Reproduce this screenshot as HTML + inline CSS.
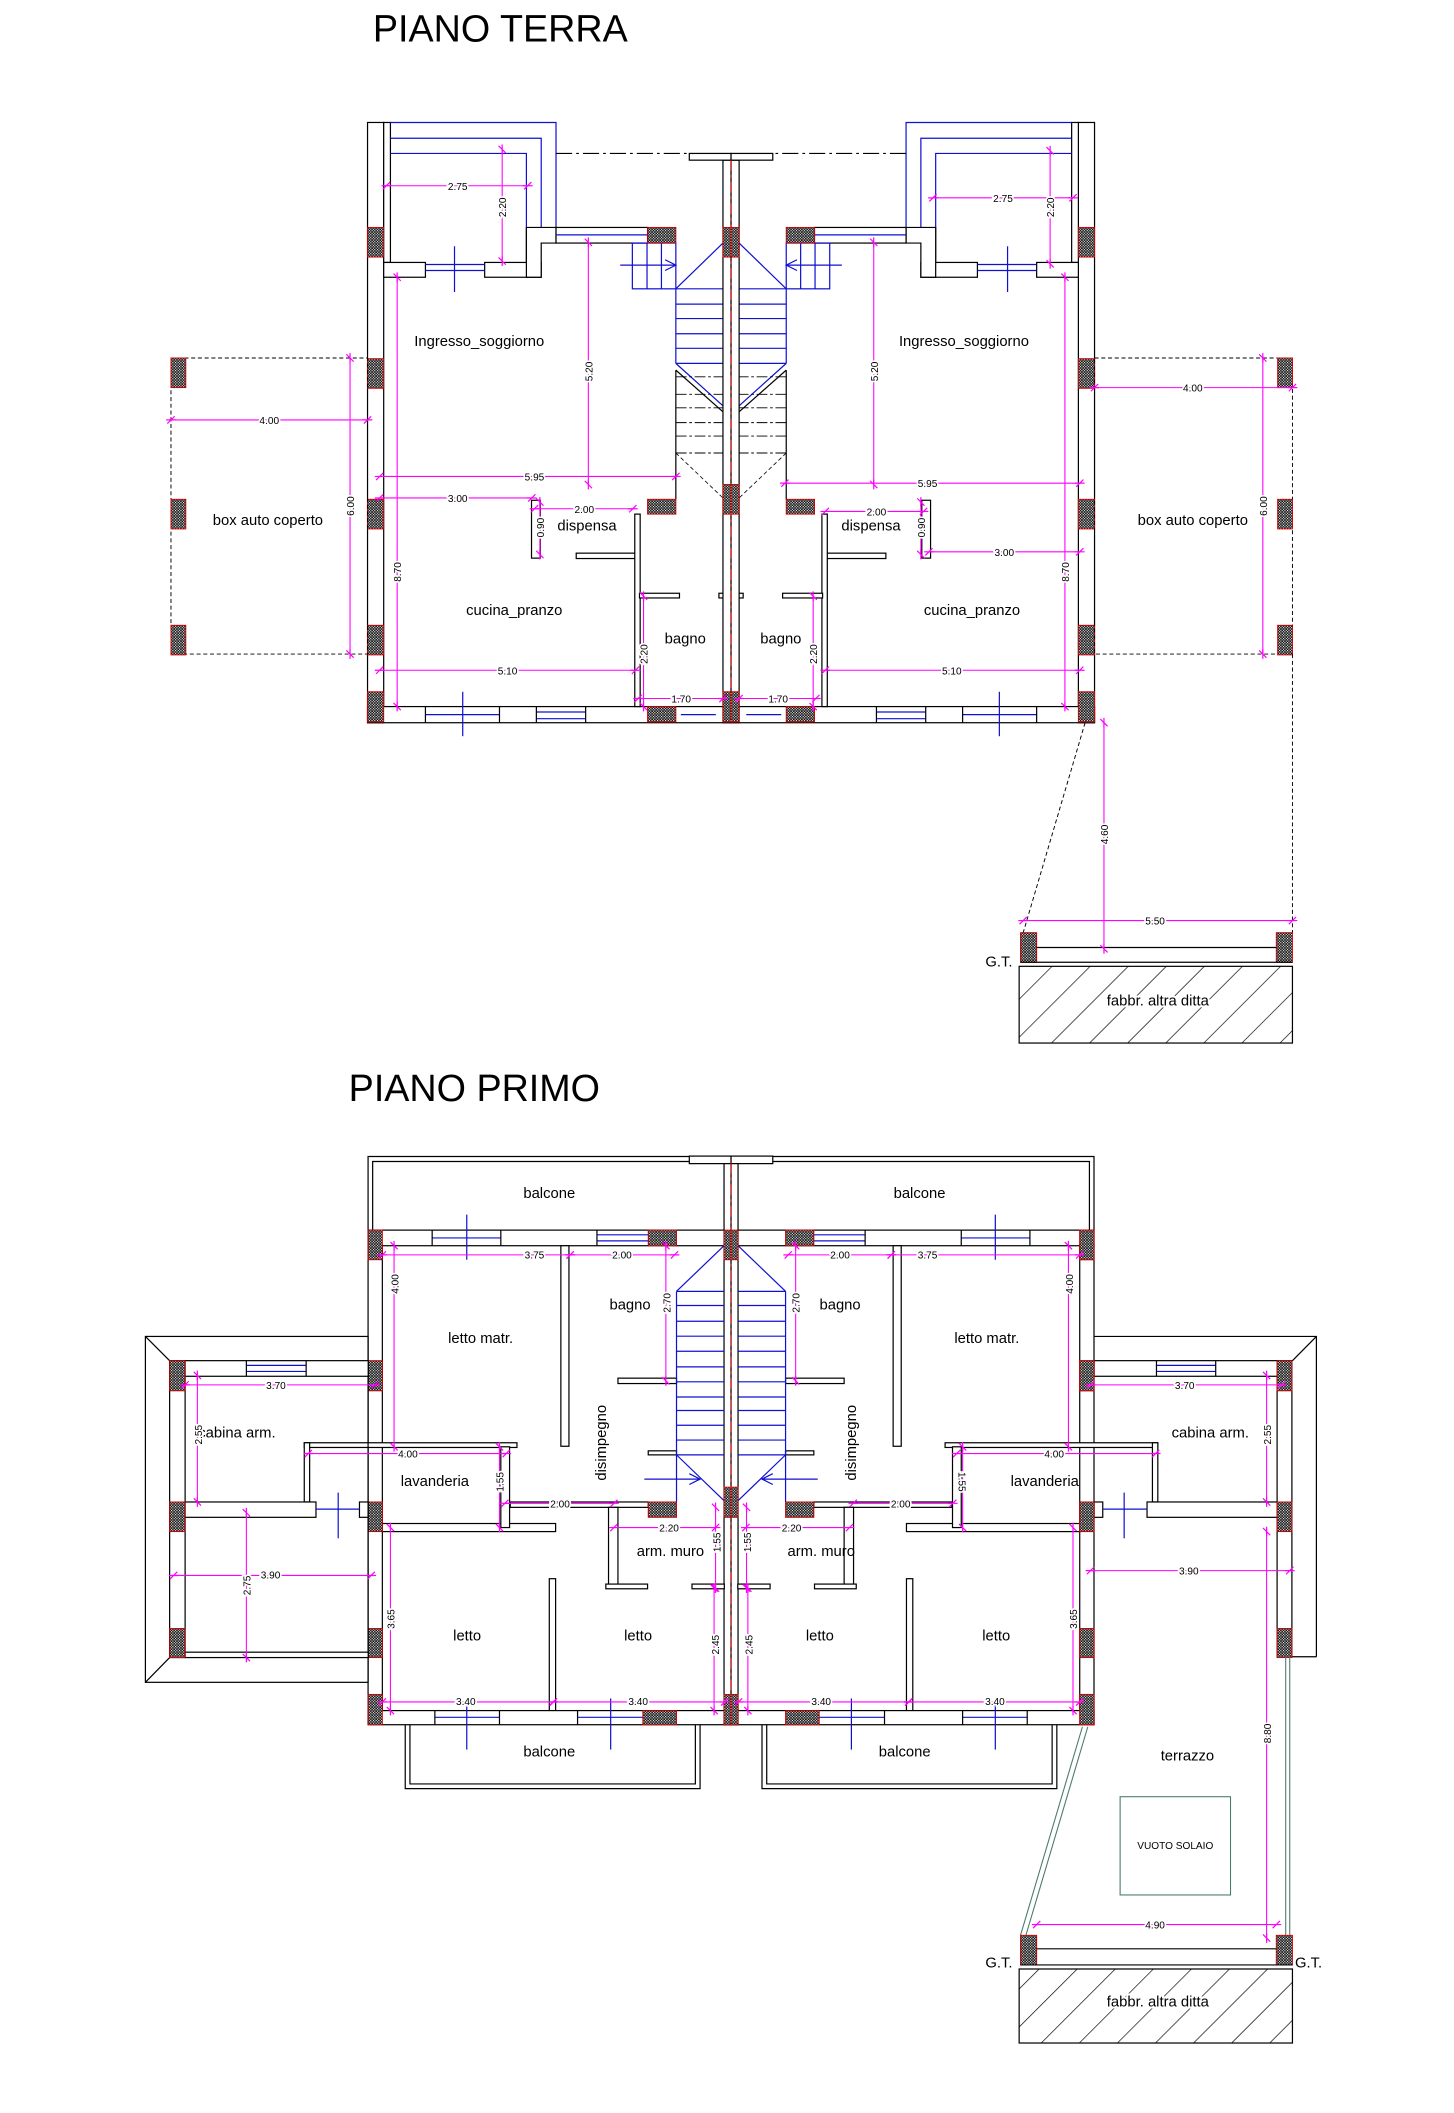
<!DOCTYPE html>
<html><head><meta charset="utf-8"><style>
html,body{margin:0;padding:0;background:#fff}
svg{display:block}
.w{fill:#fff;stroke:#000;stroke-width:.9}
.k{fill:none;stroke:#000;stroke-width:.9}
.bl{fill:none;stroke:#1010d0;stroke-width:.9}
.p{fill:url(#hp);stroke:#c00;stroke-width:.7}
.d{stroke:#f0f;stroke-width:.8;fill:none;marker-start:url(#t);marker-end:url(#t)}
.dt{font:7.5px "Liberation Sans",sans-serif;fill:#000;text-anchor:middle;stroke:#fff;stroke-width:2.5;paint-order:stroke}
.r{font:11px "Liberation Sans",sans-serif;fill:#000;text-anchor:middle}
.ttl{font:28px "Liberation Sans",sans-serif;fill:#000}
.gr{fill:none;stroke:#4a7a6a;stroke-width:.8}
</style></head><body>
<svg width="1454" height="2113" viewBox="0 0 1080 1570" preserveAspectRatio="none" xmlns="http://www.w3.org/2000/svg">
<defs>
<pattern id="hp" width="2" height="2" patternUnits="userSpaceOnUse"><rect width="2" height="2" fill="#111"/><rect x="1" y="0" width="0.8" height="0.8" fill="#fff"/><rect x="0" y="1" width="0.8" height="0.8" fill="#fff"/></pattern>
<pattern id="hatch" width="20" height="20" patternUnits="userSpaceOnUse" patternTransform="rotate(45)"><line x1="0" y1="0" x2="0" y2="20" stroke="#000" stroke-width="1"/></pattern>
<marker id="t" viewBox="-5 -5 10 10" markerWidth="9" markerHeight="9" orient="auto" markerUnits="userSpaceOnUse"><path d="M-3,3 L3,-3 M-4,0 L4,0" stroke="#f0f" stroke-width="1"/></marker>
</defs>
<rect width="1080" height="1570" fill="#fff"/>

<text class="ttl" x="277" y="31">PIANO TERRA</text>
<text class="ttl" x="259" y="818">PIANO PRIMO</text>

<g id="G">
 <rect class="w" x="273" y="91" width="12" height="446"/>
 <rect class="w" x="285" y="91" width="5" height="104"/>
 <polyline class="bl" points="290,91 413,91 413,169"/>
 <polyline class="bl" points="290,102.7 402,102.7 402,169"/>
 <polyline class="bl" points="290,114 391,114 391,169"/>
 <line class="k" x1="391" y1="169" x2="391" y2="195"/>
 <rect class="w" x="285" y="195" width="31" height="11"/>
 <rect class="w" x="360" y="195" width="42" height="11"/>
 <polygon class="w" points="391,169 413,169 413,180.6 402,180.6 402,206 391,206"/>
 <line class="bl" x1="316" y1="196.5" x2="360" y2="196.5"/>
 <line class="bl" x1="316" y1="201" x2="360" y2="201"/>
 <line class="bl" x1="337.6" y1="183" x2="337.6" y2="217"/>
 <rect class="w" x="413" y="169" width="68" height="11.6"/>
 <line class="bl" x1="413" y1="174.5" x2="481" y2="174.5"/>
 <line x1="413" y1="114" x2="512" y2="114" stroke="#000" stroke-width=".8" stroke-dasharray="12,3,2,3"/>
 <rect class="w" x="273" y="525" width="270" height="12"/>
 <rect x="316" y="526" width="55" height="10" fill="#fff"/>
 <line class="bl" x1="316" y1="531" x2="371" y2="531"/>
 <line class="bl" x1="343.7" y1="514" x2="343.7" y2="547"/>
 <rect x="398.4" y="526" width="36.6" height="10" fill="#fff"/>
 <line class="bl" x1="398.4" y1="529" x2="435" y2="529"/><line class="bl" x1="398.4" y1="534" x2="435" y2="534"/>
 <rect x="505.7" y="526" width="26" height="10" fill="#fff"/>
 <line class="bl" x1="505.7" y1="531" x2="531.7" y2="531"/>
 <line class="k" x1="316" y1="525" x2="316" y2="537"/><line class="k" x1="371" y1="525" x2="371" y2="537"/>
 <line class="k" x1="398.4" y1="525" x2="398.4" y2="537"/><line class="k" x1="435" y1="525" x2="435" y2="537"/>
 <rect class="w" x="394.8" y="371.7" width="6.5" height="43"/>
 <rect class="w" x="428" y="411" width="44" height="4"/>
 <rect class="w" x="471.5" y="382" width="4" height="143"/>
 <rect class="w" x="475" y="440.8" width="29.7" height="3.5"/>
 <rect class="w" x="534" y="440.8" width="9" height="3.5"/>
 <rect class="bl" x="469.7" y="180.6" width="32.3" height="34"/>
 <line class="bl" x1="480.6" y1="180.6" x2="480.6" y2="214.6"/>
 <line class="bl" x1="491.3" y1="180.6" x2="491.3" y2="214.6"/>
 <line class="bl" x1="460.7" y1="197" x2="502" y2="197"/>
 <polyline class="bl" points="494,193 502,197 494,201"/>
 <line class="bl" x1="502" y1="214.6" x2="537" y2="180.6"/>
 <line class="bl" x1="502" y1="214.6" x2="502" y2="270"/>
 <g class="bl"><line x1="502" y1="226" x2="537" y2="226"/><line x1="502" y1="236.7" x2="537" y2="236.7"/><line x1="502" y1="248" x2="537" y2="248"/><line x1="502" y1="258.8" x2="537" y2="258.8"/><line x1="502" y1="270" x2="537" y2="270"/><line x1="502" y1="214.6" x2="537" y2="214.6"/></g>
 <line class="bl" x1="502" y1="270" x2="537" y2="301.5"/>
 <line class="k" x1="502" y1="275" x2="537" y2="306"/>
 <g stroke="#000" stroke-width=".7" stroke-dasharray="8,2,2,2"><line x1="502" y1="280" x2="537" y2="280"/><line x1="502" y1="293" x2="537" y2="293"/><line x1="502" y1="303" x2="537" y2="303"/><line x1="502" y1="314" x2="537" y2="314"/><line x1="502" y1="324" x2="537" y2="324"/><line x1="502" y1="336.6" x2="537" y2="336.6"/></g>
 <line class="k" x1="502" y1="275" x2="502" y2="371"/>
 <line stroke="#000" stroke-width=".6" stroke-dasharray="3,2" x1="502" y1="336.6" x2="537" y2="370"/>
 <rect class="w" x="537" y="119" width="6" height="418"/>
 <rect class="w" x="512" y="114" width="31" height="5"/>
 <rect class="p" x="273" y="169" width="12" height="22"/>
 <rect class="p" x="273" y="266.5" width="12" height="22"/>
 <rect class="p" x="273" y="371" width="12" height="22"/>
 <rect class="p" x="273" y="464.6" width="12" height="22"/>
 <rect class="p" x="273" y="514" width="12" height="22.5"/>
 <rect class="p" x="481" y="169" width="21" height="11.6"/>
 <rect class="p" x="481" y="371" width="21" height="11"/>
 <rect class="p" x="481" y="525" width="21" height="11.5"/>
 <rect class="p" x="537" y="169" width="6" height="22"/>
 <rect class="p" x="537" y="360" width="6" height="22"/>
 <rect class="p" x="537" y="514" width="6" height="22.5"/>
</g>
<use href="#G" transform="translate(1086,0) scale(-1,1)"/>
<line x1="543" y1="119" x2="543" y2="537" stroke="#d00" stroke-width=".8" stroke-dasharray="8,3,2,3"/>

<rect x="127" y="266" width="146" height="220" fill="none" stroke="#000" stroke-width=".7" stroke-dasharray="3,2"/>
<rect x="813" y="266" width="147" height="220" fill="none" stroke="#000" stroke-width=".7" stroke-dasharray="3,2"/>
<rect class="p" x="127" y="266" width="11" height="22"/><rect class="p" x="127" y="371" width="11" height="22"/><rect class="p" x="127" y="464.6" width="11" height="22"/>
<rect class="p" x="949" y="266" width="11" height="22"/><rect class="p" x="949" y="371" width="11" height="22"/><rect class="p" x="949" y="464.6" width="11" height="22"/>
<line x1="806" y1="537" x2="760" y2="693" stroke="#000" stroke-width=".7" stroke-dasharray="3,2"/>
<line x1="960" y1="486" x2="960" y2="693" stroke="#000" stroke-width=".7" stroke-dasharray="3,2"/>
<rect class="p" x="758" y="693" width="12" height="22"/><rect class="p" x="948" y="693" width="12" height="22"/>
<line class="k" x1="770" y1="704" x2="948" y2="704"/>
<line class="k" x1="758" y1="715" x2="960" y2="715"/>
<rect x="757" y="718" width="203" height="57" fill="url(#hatch)" stroke="#000" stroke-width=".9"/>
<text class="r" x="860" y="747" style="stroke:#fff;stroke-width:3;paint-order:stroke">fabbr. altra ditta</text>
<text class="r" x="742" y="718">G.T.</text>

<text class="r" x="356" y="257">Ingresso_soggiorno</text>
<text class="r" x="716" y="257">Ingresso_soggiorno</text>
<text class="r" x="199" y="390">box auto coperto</text>
<text class="r" x="886" y="390">box auto coperto</text>
<text class="r" x="436" y="394">dispensa</text>
<text class="r" x="647" y="394">dispensa</text>
<text class="r" x="382" y="457">cucina_pranzo</text>
<text class="r" x="722" y="457">cucina_pranzo</text>
<text class="r" x="509" y="478">bagno</text>
<text class="r" x="580" y="478">bagno</text>

<line class="d" x1="287" y1="138" x2="392" y2="138"/><text class="dt" x="340" y="141">2.75</text>
<line class="d" x1="373" y1="111" x2="373" y2="194"/><text class="dt" transform="translate(376,154) rotate(-90)">2.20</text>
<line class="d" x1="693" y1="147" x2="797" y2="147"/><text class="dt" x="745" y="150">2.75</text>
<line class="d" x1="780" y1="112" x2="780" y2="196"/><text class="dt" transform="translate(783,154) rotate(-90)">2.20</text>
<line class="d" x1="127" y1="312" x2="273" y2="312"/><text class="dt" x="200" y="315">4.00</text>
<line class="d" x1="260" y1="266" x2="260" y2="486"/><text class="dt" transform="translate(263,376) rotate(-90)">6.00</text>
<line class="d" x1="813" y1="288" x2="960" y2="288"/><text class="dt" x="886" y="291">4.00</text>
<line class="d" x1="938" y1="266" x2="938" y2="486"/><text class="dt" transform="translate(941,376) rotate(-90)">6.00</text>
<line class="d" x1="295" y1="206" x2="295" y2="525"/><text class="dt" transform="translate(298,425) rotate(-90)">8.70</text>
<line class="d" x1="791" y1="206" x2="791" y2="525"/><text class="dt" transform="translate(794,425) rotate(-90)">8.70</text>
<line class="d" x1="437" y1="180" x2="437" y2="360"/><text class="dt" transform="translate(440,276) rotate(-90)">5.20</text>
<line class="d" x1="649" y1="180" x2="649" y2="360"/><text class="dt" transform="translate(652,276) rotate(-90)">5.20</text>
<line class="d" x1="282" y1="354" x2="502" y2="354"/><text class="dt" x="397" y="357">5.95</text>
<line class="d" x1="583" y1="359" x2="802" y2="359"/><text class="dt" x="689" y="362">5.95</text>
<line class="d" x1="282" y1="370" x2="395" y2="370"/><text class="dt" x="340" y="373">3.00</text>
<line class="d" x1="690" y1="410" x2="802" y2="410"/><text class="dt" x="746" y="413">3.00</text>
<line class="d" x1="397" y1="378" x2="470" y2="378"/><text class="dt" x="434" y="381">2.00</text>
<line class="d" x1="613" y1="380" x2="686" y2="380"/><text class="dt" x="651" y="383">2.00</text>
<line class="d" x1="401" y1="373" x2="401" y2="412"/><text class="dt" transform="translate(404,392) rotate(-90)">0.90</text>
<line class="d" x1="684" y1="373" x2="684" y2="412"/><text class="dt" transform="translate(687,392) rotate(-90)">0.90</text>
<line class="d" x1="282" y1="498" x2="472" y2="498"/><text class="dt" x="377" y="501">5.10</text>
<line class="d" x1="613" y1="498" x2="802" y2="498"/><text class="dt" x="707" y="501">5.10</text>
<line class="d" x1="478" y1="443" x2="478" y2="525"/><text class="dt" transform="translate(481,486) rotate(-90)">2.20</text>
<line class="d" x1="604" y1="443" x2="604" y2="525"/><text class="dt" transform="translate(607,486) rotate(-90)">2.20</text>
<line class="d" x1="474" y1="519" x2="537" y2="519"/><text class="dt" x="506" y="522">1.70</text>
<line class="d" x1="549" y1="519" x2="606" y2="519"/><text class="dt" x="578" y="522">1.70</text>
<line class="d" x1="820" y1="537" x2="820" y2="705"/><text class="dt" transform="translate(823,620) rotate(-90)">4.60</text>
<line class="d" x1="760" y1="684" x2="960" y2="684"/><text class="dt" x="858" y="687">5.50</text>

<g id="P">
 <polyline class="k" points="273.4,914 273.4,859.3 512,859.3"/>
 <polyline class="k" points="276.8,914 276.8,863 512,863"/>
 <rect class="w" x="512" y="859" width="31" height="5.6"/>
 <rect class="w" x="537.8" y="864.6" width="5.2" height="417"/>
 <rect class="w" x="273.4" y="914" width="264.4" height="11.6"/>
 <rect x="321.5" y="915" width="50" height="9.6" fill="#fff"/>
 <line class="bl" x1="321" y1="919.8" x2="372" y2="919.8"/>
 <line class="bl" x1="346.7" y1="902.5" x2="346.7" y2="936"/>
 <line class="k" x1="321" y1="914" x2="321" y2="925.6"/><line class="k" x1="372" y1="914" x2="372" y2="925.6"/>
 <rect x="443.9" y="915" width="37" height="9.6" fill="#fff"/>
 <line class="bl" x1="443.4" y1="917.5" x2="481.5" y2="917.5"/><line class="bl" x1="443.4" y1="922" x2="481.5" y2="922"/>
 <line class="k" x1="443.4" y1="914" x2="443.4" y2="925.6"/>
 <rect class="w" x="273.4" y="925" width="10.6" height="356"/>
 <rect class="w" x="416.6" y="925.6" width="6" height="149"/>
 <rect class="w" x="459" y="1024" width="43.5" height="4"/>
 <rect class="w" x="379" y="1116" width="102.5" height="4"/>
 <rect class="w" x="284" y="1132" width="128.7" height="6"/>
 <rect class="w" x="226" y="1072" width="158" height="3.5"/>
 <rect class="w" x="226" y="1072" width="4" height="44"/>
 <rect class="w" x="372" y="1075" width="6.5" height="60"/>
 <rect class="w" x="452" y="1120" width="7" height="60"/>
 <rect class="w" x="450" y="1177" width="31" height="3.5"/>
 <rect class="w" x="514" y="1177" width="24" height="3.5"/>
 <rect class="w" x="408" y="1173" width="4.7" height="98"/>
 <rect class="w" x="481.5" y="1078" width="21" height="3"/>
 <rect class="w" x="273.4" y="1271" width="264.4" height="10.5"/>
 <rect x="323.5" y="1272" width="47" height="8.5" fill="#fff"/>
 <line class="bl" x1="323" y1="1276" x2="371" y2="1276"/>
 <line class="bl" x1="346.7" y1="1262" x2="346.7" y2="1300"/>
 <line class="k" x1="323" y1="1271" x2="323" y2="1281.5"/><line class="k" x1="371" y1="1271" x2="371" y2="1281.5"/>
 <rect x="429.5" y="1272" width="47.5" height="8.5" fill="#fff"/>
 <line class="bl" x1="429" y1="1276" x2="477.5" y2="1276"/>
 <line class="bl" x1="453.6" y1="1262" x2="453.6" y2="1300"/>
 <line class="k" x1="429" y1="1271" x2="429" y2="1281.5"/>
 <polyline class="k" points="301,1281.5 301,1329 520,1329 520,1281.5"/>
 <polyline class="k" points="304.5,1281.5 304.5,1325.5 516.5,1325.5 516.5,1281.5"/>
 <line class="bl" x1="502.5" y1="959.5" x2="502.5" y2="1116"/>
 <g class="bl">
  <line x1="502.5" y1="959.5" x2="537.8" y2="959.5"/><line x1="502.5" y1="970" x2="537.8" y2="970"/><line x1="502.5" y1="981.7" x2="537.8" y2="981.7"/><line x1="502.5" y1="992.8" x2="537.8" y2="992.8"/><line x1="502.5" y1="1004" x2="537.8" y2="1004"/><line x1="502.5" y1="1015.6" x2="537.8" y2="1015.6"/><line x1="502.5" y1="1026.7" x2="537.8" y2="1026.7"/><line x1="502.5" y1="1038" x2="537.8" y2="1038"/><line x1="502.5" y1="1048" x2="537.8" y2="1048"/><line x1="502.5" y1="1059" x2="537.8" y2="1059"/><line x1="502.5" y1="1070" x2="537.8" y2="1070"/><line x1="502.5" y1="1081" x2="537.8" y2="1081"/>
  <line x1="502.5" y1="959.5" x2="537.8" y2="925.6"/><line x1="502.5" y1="1081" x2="537.8" y2="1115"/>
  <line x1="478.6" y1="1099" x2="520" y2="1099"/><polyline points="512,1095 520,1099 512,1103"/>
 </g>
 <rect class="p" x="273.4" y="914" width="10.6" height="22"/>
 <rect class="p" x="481.5" y="914" width="21" height="11.6"/>
 <rect class="p" x="537.8" y="914" width="5.2" height="22"/>
 <rect class="p" x="481.5" y="1116" width="21" height="11.4"/>
 <rect class="p" x="537.8" y="1105" width="5.2" height="22.4"/>
 <rect class="p" x="273.4" y="1011" width="10.6" height="22.4"/>
 <rect class="p" x="273.4" y="1116" width="10.6" height="22"/>
 <rect class="p" x="273.4" y="1210" width="10.6" height="21.6"/>
 <rect class="p" x="273.4" y="1259" width="10.6" height="22.5"/>
 <rect class="p" x="477.5" y="1271" width="25" height="10.5"/>
 <rect class="p" x="537.8" y="1259" width="5.2" height="22.5"/>
</g>
<use href="#P" transform="translate(1086,0) scale(-1,1)"/>
<line x1="543" y1="864" x2="543" y2="1281" stroke="#d00" stroke-width=".8" stroke-dasharray="8,3,2,3"/>

<rect class="k" x="108" y="993" width="165.4" height="257"/>
<line class="k" x1="108" y1="993" x2="126" y2="1011"/><line class="k" x1="108" y1="1250" x2="126" y2="1231.6"/>
<rect class="w" x="126" y="1011" width="11.5" height="220.6"/>
<rect class="w" x="137.5" y="1011" width="136" height="11.6"/>
<rect x="183.5" y="1012" width="43.5" height="9.6" fill="#fff"/>
<line class="bl" x1="183" y1="1014.5" x2="227.4" y2="1014.5"/><line class="bl" x1="183" y1="1019" x2="227.4" y2="1019"/>
<line class="k" x1="183" y1="1011" x2="183" y2="1022.6"/><line class="k" x1="227.4" y1="1011" x2="227.4" y2="1022.6"/>
<rect class="w" x="137.5" y="1116" width="97.2" height="11.4"/>
<rect class="w" x="267" y="1116" width="6.4" height="11.4"/>
<line class="bl" x1="234.7" y1="1121.3" x2="267" y2="1121.3"/>
<line class="bl" x1="251.2" y1="1109" x2="251.2" y2="1143"/>
<rect class="w" x="137.5" y="1227.6" width="136" height="4"/>
<rect class="p" x="126" y="1011" width="11.5" height="22.4"/><rect class="p" x="126" y="1116" width="11.5" height="22"/><rect class="p" x="126" y="1210" width="11.5" height="21.6"/>

<polyline class="k" points="812.7,993 977.8,993 977.8,1231"/>
<line class="k" x1="977.8" y1="993" x2="960" y2="1011"/>
<line class="k" x1="960" y1="1231" x2="977.8" y2="1231"/>
<rect class="w" x="948.6" y="1011" width="11" height="220"/>
<rect class="w" x="812.7" y="1011" width="136" height="11.6"/>
<rect x="859" y="1012" width="43.5" height="9.6" fill="#fff"/>
<line class="bl" x1="859" y1="1014.5" x2="903" y2="1014.5"/><line class="bl" x1="859" y1="1019" x2="903" y2="1019"/>
<line class="k" x1="859" y1="1011" x2="859" y2="1022.6"/><line class="k" x1="903" y1="1011" x2="903" y2="1022.6"/>
<rect class="w" x="852" y="1116" width="96.6" height="11.4"/>
<rect class="w" x="812.7" y="1116" width="6.4" height="11.4"/>
<line class="bl" x1="819" y1="1121.3" x2="852" y2="1121.3"/>
<line class="bl" x1="835" y1="1109" x2="835" y2="1143"/>
<rect class="p" x="948.6" y="1011" width="11" height="22.4"/><rect class="p" x="948.6" y="1116" width="11" height="22"/><rect class="p" x="948.6" y="1210" width="11" height="21.6"/>
<rect class="p" x="802" y="914" width="10.7" height="22"/><rect class="p" x="802" y="1011" width="10.7" height="22.4"/><rect class="p" x="802" y="1116" width="10.7" height="22"/><rect class="p" x="802" y="1210" width="10.7" height="21.6"/><rect class="p" x="802" y="1259" width="10.7" height="22.5"/>

<line class="gr" x1="804" y1="1283" x2="758" y2="1438"/><line class="gr" x1="808" y1="1283" x2="762" y2="1438"/>
<line class="gr" x1="955" y1="1231" x2="955" y2="1438"/><line class="gr" x1="958" y1="1231" x2="958" y2="1438"/>
<rect class="gr" x="832" y="1335" width="82" height="73"/>
<text class="r" x="873" y="1374" style="font-size:7.5px">VUOTO SOLAIO</text>
<text class="r" x="882" y="1308">terrazzo</text>
<rect class="p" x="758" y="1438" width="12" height="22"/><rect class="p" x="948" y="1438" width="12" height="22"/>
<line class="k" x1="770" y1="1448" x2="948" y2="1448"/>
<line class="k" x1="758" y1="1460" x2="960" y2="1460"/>
<rect x="757" y="1463" width="203" height="55" fill="url(#hatch)" stroke="#000" stroke-width=".9"/>
<text class="r" x="860" y="1491" style="stroke:#fff;stroke-width:3;paint-order:stroke">fabbr. altra ditta</text>
<text class="r" x="742" y="1462">G.T.</text>
<text class="r" x="972" y="1462">G.T.</text>

<text class="r" x="408" y="890">balcone</text><text class="r" x="683" y="890">balcone</text>
<text class="r" x="357" y="998">letto matr.</text><text class="r" x="733" y="998">letto matr.</text>
<text class="r" x="468" y="973">bagno</text><text class="r" x="624" y="973">bagno</text>
<text class="r" x="176" y="1068">cabina arm.</text><text class="r" x="899" y="1068">cabina arm.</text>
<text class="r" transform="translate(450,1072) rotate(-90)">disimpegno</text>
<text class="r" transform="translate(636,1072) rotate(-90)">disimpegno</text>
<text class="r" x="323" y="1104">lavanderia</text><text class="r" x="776" y="1104">lavanderia</text>
<text class="r" x="498" y="1156">arm. muro</text><text class="r" x="610" y="1156">arm. muro</text>
<text class="r" x="347" y="1219">letto</text><text class="r" x="474" y="1219">letto</text><text class="r" x="609" y="1219">letto</text><text class="r" x="740" y="1219">letto</text>
<text class="r" x="408" y="1305">balcone</text><text class="r" x="672" y="1305">balcone</text>

<line class="d" x1="284" y1="932.4" x2="423.5" y2="932.4"/><text class="dt" x="397" y="935">3.75</text>
<line class="d" x1="423.5" y1="932.4" x2="501" y2="932.4"/><text class="dt" x="462" y="935">2.00</text>
<line class="d" x1="585.5" y1="932.4" x2="662" y2="932.4"/><text class="dt" x="624" y="935">2.00</text>
<line class="d" x1="662" y1="932.4" x2="802" y2="932.4"/><text class="dt" x="689" y="935">3.75</text>
<line class="d" x1="292.7" y1="925.6" x2="292.7" y2="1075"/><text class="dt" transform="translate(296,954) rotate(-90)">4.00</text>
<line class="d" x1="793.6" y1="925.6" x2="793.6" y2="1075"/><text class="dt" transform="translate(797,954) rotate(-90)">4.00</text>
<line class="d" x1="494.6" y1="925.6" x2="494.6" y2="1026"/><text class="dt" transform="translate(498,968) rotate(-90)">2.70</text>
<line class="d" x1="591" y1="925.6" x2="591" y2="1026"/><text class="dt" transform="translate(594,968) rotate(-90)">2.70</text>
<line class="d" x1="137.5" y1="1029" x2="278.5" y2="1029"/><text class="dt" x="205" y="1032">3.70</text>
<line class="d" x1="810" y1="1029" x2="952" y2="1029"/><text class="dt" x="880" y="1032">3.70</text>
<line class="d" x1="146.6" y1="1022" x2="146.6" y2="1116"/><text class="dt" transform="translate(150,1066) rotate(-90)">2.55</text>
<line class="d" x1="940.8" y1="1022" x2="940.8" y2="1116"/><text class="dt" transform="translate(944,1066) rotate(-90)">2.55</text>
<line class="d" x1="229" y1="1080" x2="376" y2="1080"/><text class="dt" x="303" y="1083">4.00</text>
<line class="d" x1="710.6" y1="1080" x2="858.4" y2="1080"/><text class="dt" x="783" y="1083">4.00</text>
<line class="d" x1="371" y1="1075" x2="371" y2="1135"/><text class="dt" transform="translate(374,1101) rotate(-90)">1.55</text>
<line class="d" x1="715" y1="1075" x2="715" y2="1135"/><text class="dt" transform="translate(712,1101) rotate(90)">1.55</text>
<line class="d" x1="375" y1="1117" x2="456" y2="1117"/><text class="dt" x="416" y="1120">2.00</text>
<line class="d" x1="633.8" y1="1117" x2="707.7" y2="1117"/><text class="dt" x="669" y="1120">2.00</text>
<line class="d" x1="456" y1="1135" x2="531.5" y2="1135"/><text class="dt" x="497" y="1138">2.20</text>
<line class="d" x1="554" y1="1135" x2="631" y2="1135"/><text class="dt" x="588" y="1138">2.20</text>
<line class="d" x1="531.5" y1="1120" x2="531.5" y2="1180"/><text class="dt" transform="translate(535,1146) rotate(-90)">1.55</text>
<line class="d" x1="554.5" y1="1120" x2="554.5" y2="1180"/><text class="dt" transform="translate(558,1146) rotate(-90)">1.55</text>
<line class="d" x1="530.4" y1="1180" x2="530.4" y2="1271"/><text class="dt" transform="translate(534,1222) rotate(-90)">2.45</text>
<line class="d" x1="555.5" y1="1180" x2="555.5" y2="1271"/><text class="dt" transform="translate(559,1222) rotate(-90)">2.45</text>
<line class="d" x1="129" y1="1170.6" x2="275.7" y2="1170.6"/><text class="dt" x="201" y="1173">3.90</text>
<line class="d" x1="810" y1="1167" x2="958" y2="1167"/><text class="dt" x="883" y="1170">3.90</text>
<line class="d" x1="183" y1="1124" x2="183" y2="1231.6"/><text class="dt" transform="translate(186,1178) rotate(-90)">2.75</text>
<line class="d" x1="290" y1="1135" x2="290" y2="1271"/><text class="dt" transform="translate(293,1203) rotate(-90)">3.65</text>
<line class="d" x1="797" y1="1135" x2="797" y2="1271"/><text class="dt" transform="translate(800,1203) rotate(-90)">3.65</text>
<line class="d" x1="284" y1="1264.6" x2="411" y2="1264.6"/><text class="dt" x="346" y="1267">3.40</text>
<line class="d" x1="411" y1="1264.6" x2="538.3" y2="1264.6"/><text class="dt" x="474" y="1267">3.40</text>
<line class="d" x1="548.6" y1="1264.6" x2="675" y2="1264.6"/><text class="dt" x="610" y="1267">3.40</text>
<line class="d" x1="675" y1="1264.6" x2="802" y2="1264.6"/><text class="dt" x="739" y="1267">3.40</text>
<line class="d" x1="940.8" y1="1138" x2="940.8" y2="1440"/><text class="dt" transform="translate(944,1288) rotate(-90)">8.80</text>
<line class="d" x1="770" y1="1430" x2="948" y2="1430"/><text class="dt" x="858" y="1433">4.90</text>
</svg>
</body></html>
